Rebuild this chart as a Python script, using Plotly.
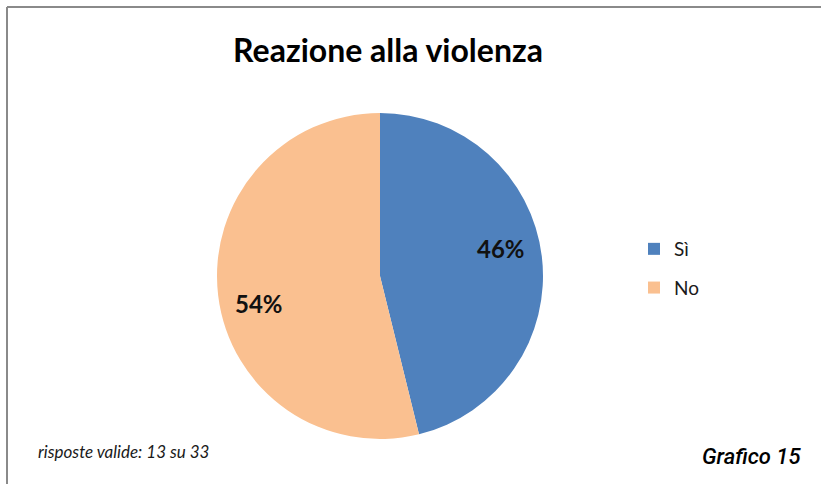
import math
import plotly.graph_objects as go

categories = ["Sì", "No"]
values = [6, 7]
colors = ["#4F81BD", "#FAC090"]
title_text = "Reazione alla violenza"
note_text = "risposte valide: 13 su 33"
figure_label = "Grafico 15"

W, H = 821, 484
CX, CY, R = 380, 276, 163  # pie centre / radius in pixels
LABEL_R = 0.76             # label distance from centre (fraction of radius)
LABEL_TURN = -6            # degrees, label placement offset along the circle

fig = go.Figure()
fig.add_trace(go.Pie(
    labels=categories,
    values=values,
    marker=dict(colors=colors, line=dict(width=0)),
    sort=False,
    direction="clockwise",
    rotation=0,
    textinfo="none",
    hoverinfo="label+percent",
    showlegend=False,
    domain=dict(x=[(CX - R) / W, (CX + R) / W], y=[1 - (CY + R) / H, 1 - (CY - R) / H]),
))

# legend entries (square swatches)
for cat, col in zip(categories, colors):
    fig.add_trace(go.Scatter(
        x=[None], y=[None], mode="markers", name=cat,
        marker=dict(symbol="square", size=12, color=col),
        legendgroup=cat, showlegend=True, hoverinfo="skip",
    ))

# percentage labels placed around each slice bisector
total = sum(values)
annotations = []
cum = 0
for v in values:
    mid = (cum + v / 2) / total * 2 * math.pi + math.radians(LABEL_TURN)
    cum += v
    px = CX + LABEL_R * R * math.sin(mid)
    py = CY - LABEL_R * R * math.cos(mid)
    annotations.append(dict(
        text=f"{round(v / total * 100)}%", x=px / W, y=1 - py / H,
        xref="paper", yref="paper", xanchor="center", yanchor="middle", showarrow=False,
        font=dict(family="Lato", size=24, color="#111111", weight="bold"),
    ))

annotations += [
    dict(text=note_text, x=36 / W, y=1 - 451 / H, xref="paper", yref="paper",
         xanchor="left", yanchor="middle", showarrow=False,
         font=dict(family="Lato", size=17, color="#1a1a1a", style="italic")),
    dict(text=figure_label, x=803 / W, y=1 - 456 / H, xref="paper", yref="paper",
         xanchor="right", yanchor="middle", showarrow=False,
         font=dict(family="Roboto", size=22, color="#000000",
                   style="italic", weight=500)),
]

fig.update_layout(
    width=W, height=H,
    margin=dict(l=0, r=0, t=0, b=0),
    paper_bgcolor="white",
    plot_bgcolor="white",
    xaxis=dict(visible=False),
    yaxis=dict(visible=False),
    title=dict(text=title_text, x=388 / W, xanchor="center", y=1 - 51 / H, yanchor="middle",
               font=dict(family="Lato", size=32, color="#000000", weight="bold")),
    legend=dict(x=634 / W, y=1 - 230 / H, xanchor="left", yanchor="top",
                font=dict(family="Lato", size=19, color="#1a1a1a"),
                itemwidth=30, tracegroupgap=11, bgcolor="rgba(0,0,0,0)"),
    showlegend=True,
    shapes=[
        dict(type="line", xref="paper", yref="paper", x0=7 / W, x1=1, y0=1 - 7 / H, y1=1 - 7 / H,
             line=dict(color="#8a8a8a", width=2)),
        dict(type="line", xref="paper", yref="paper", x0=7 / W, x1=7 / W, y0=0, y1=1 - 7 / H,
             line=dict(color="#8a8a8a", width=2)),
    ],
    annotations=annotations,
)

fig.write_html("out.html", config={"displayModeBar": False},
               post_script="document.body.style.margin='0';")
